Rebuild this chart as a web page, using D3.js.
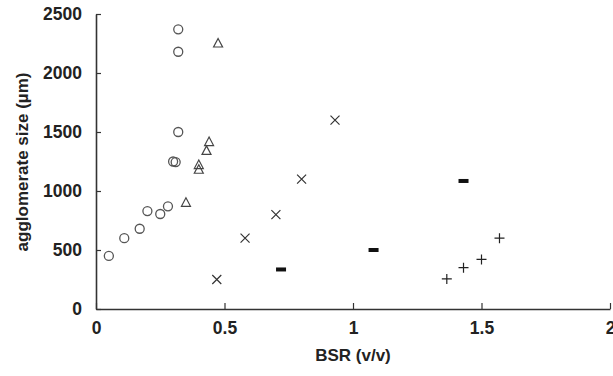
<!DOCTYPE html>
<html><head><meta charset="utf-8">
<script src="https://cdn.jsdelivr.net/npm/d3@7"></script>
<style>
body{margin:0;background:#fff;}
svg text{font-family:"Liberation Sans",Arial,sans-serif;font-weight:bold;fill:#222;}
</style></head>
<body><svg id="c" width="613" height="376"></svg>
<script>
// Data: BSR (v/v) vs agglomerate size (µm)
const circleX = [0.05, 0.11, 0.17, 0.20, 0.25, 0.28, 0.30, 0.31, 0.32, 0.32, 0.32];
const circleY = [450, 600, 680, 830, 805, 870, 1250, 1245, 1500, 2180, 2370];
const triangleX = [0.35, 0.40, 0.40, 0.43, 0.44, 0.475];
const triangleY = [900, 1180, 1220, 1340, 1415, 2250];
const crossX = [0.47, 0.58, 0.70, 0.80, 0.93];
const crossY = [250, 600, 800, 1100, 1600];
const dashX = [0.72, 1.08, 1.43];
const dashY = [335, 500, 1085];
const plusX = [1.365, 1.43, 1.50, 1.57];
const plusY = [255, 350, 420, 600];
const xTicks = [0, 0.5, 1, 1.5, 2];
const yTicks = [0, 500, 1000, 1500, 2000, 2500];

const svg = d3.select("#c");
const x = d3.scaleLinear().domain([0, 2]).range([96, 610]);
const y = d3.scaleLinear().domain([0, 2500]).range([309, 14]);

// axes
const xAxis = svg.append("g").attr("transform", "translate(0,309)")
  .call(d3.axisBottom(x).tickValues(xTicks).tickFormat(d => String(d)).tickSizeInner(-6).tickSizeOuter(0).tickPadding(13));
const yAxis = svg.append("g").attr("transform", "translate(96,0)")
  .call(d3.axisLeft(y).tickValues(yTicks).tickFormat(d => String(d)).tickSizeInner(-5).tickSizeOuter(0).tickPadding(14));
[xAxis, yAxis].forEach(a => {
  a.select(".domain").attr("stroke", "#333").attr("stroke-width", 1.6);
  a.selectAll(".tick line").attr("stroke", "#333").attr("stroke-width", 1.2);
  a.selectAll("text").style("font-size", "17.5px").attr("fill", "#222");
});

// markers
const g = svg.append("g");
circleX.forEach((v, i) => g.append("circle").attr("cx", x(v)).attr("cy", y(circleY[i])).attr("r", 4.5)
  .attr("fill", "none").attr("stroke", "#555").attr("stroke-width", 1.3));
triangleX.forEach((v, i) => {
  const cx = x(v), cy = y(triangleY[i]);
  g.append("path").attr("d", `M${cx},${cy-5}L${cx+4.5},${cy+3.5}L${cx-4.5},${cy+3.5}Z`)
    .attr("fill", "none").attr("stroke", "#444").attr("stroke-width", 1.2);
});
crossX.forEach((v, i) => {
  const cx = x(v), cy = y(crossY[i]), s = 4.5;
  g.append("path").attr("d", `M${cx-s},${cy-s}L${cx+s},${cy+s}M${cx-s},${cy+s}L${cx+s},${cy-s}`)
    .attr("stroke", "#333").attr("stroke-width", 1.2);
});
dashX.forEach((v, i) => g.append("rect").attr("x", x(v) - 5).attr("y", y(dashY[i]) - 2)
  .attr("width", 10).attr("height", 4).attr("fill", "#111"));
plusX.forEach((v, i) => {
  const cx = x(v), cy = y(plusY[i]), s = 5;
  g.append("path").attr("d", `M${cx-s},${cy}L${cx+s},${cy}M${cx},${cy-s}L${cx},${cy+s}`)
    .attr("stroke", "#222").attr("stroke-width", 1.2);
});

// axis titles
svg.append("text").attr("x", 353).attr("y", 361).attr("text-anchor", "middle")
  .style("font-size", "17px").text("BSR (v/v)");
svg.append("text").attr("transform", "translate(28,162) rotate(-90)").attr("text-anchor", "middle")
  .style("font-size", "17px").text("agglomerate size (µm)");
</script></body></html>
